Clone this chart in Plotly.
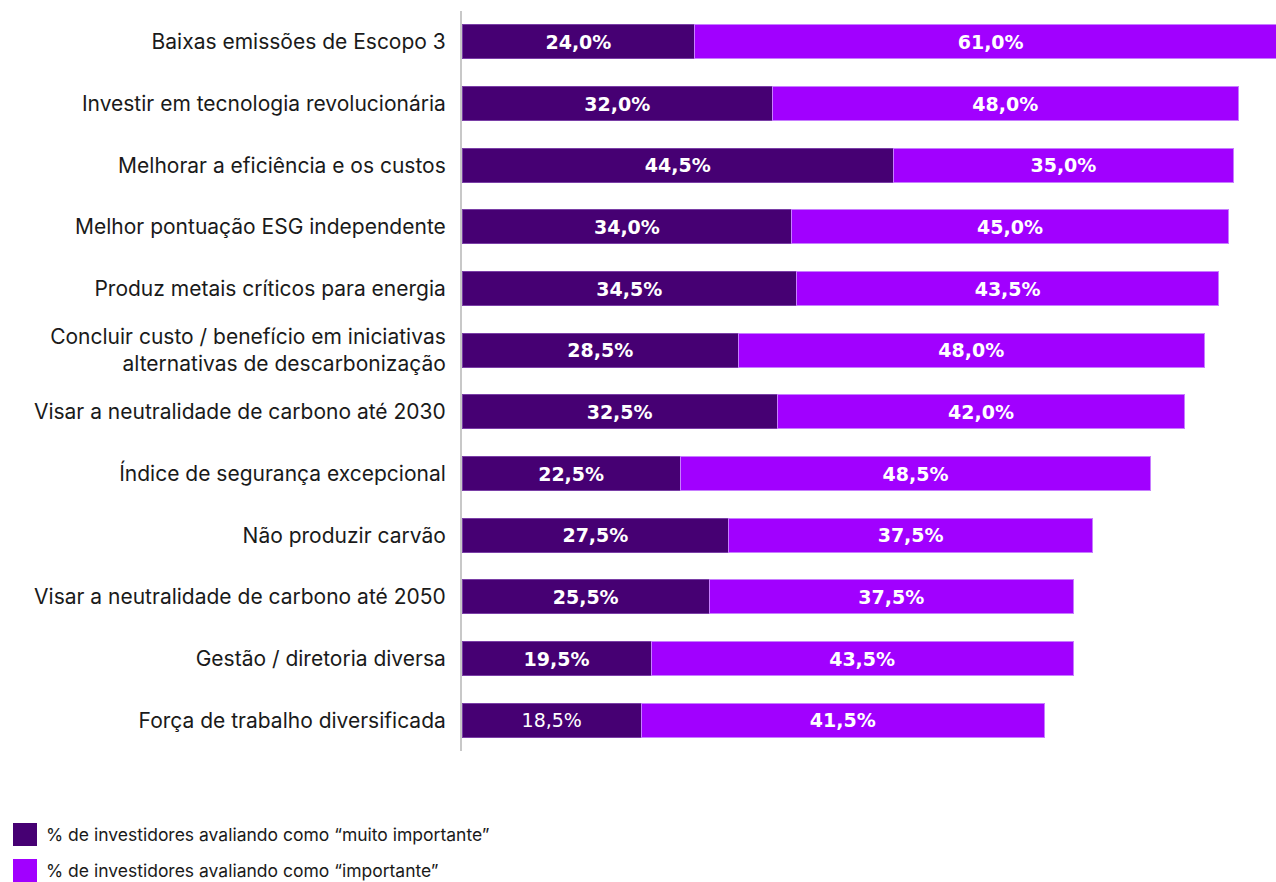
import plotly.graph_objects as go

categories = [
    "Baixas emissões de Escopo 3",
    "Investir em tecnologia revolucionária",
    "Melhorar a eficiência e os custos",
    "Melhor pontuação ESG independente",
    "Produz metais críticos para energia",
    "Concluir custo / benefício em iniciativas<br>alternativas de descarbonização",
    "Visar a neutralidade de carbono até 2030",
    "Índice de segurança excepcional",
    "Não produzir carvão",
    "Visar a neutralidade de carbono até 2050",
    "Gestão / diretoria diversa",
    "Força de trabalho diversificada",
]
muito_importante = [24.0, 32.0, 44.5, 34.0, 34.5, 28.5, 32.5, 22.5, 27.5, 25.5, 19.5, 18.5]
importante = [61.0, 48.0, 35.0, 45.0, 43.5, 48.0, 42.0, 48.5, 37.5, 37.5, 43.5, 41.5]
legend_labels = [
    "% de investidores avaliando como “muito importante”",
    "% de investidores avaliando como “importante”",
]

DARK = "#460073"
BRIGHT = "#A100FF"
TEXT_FONT = "Inter"
VALUE_FONT = "DejaVu Sans"


def fmt(v):
    return f"{v:.1f}".replace(".", ",") + "%"


# last dark label is drawn in regular weight, the rest in bold
dark_text = [f"<b>{fmt(v)}</b>" for v in muito_importante[:-1]] + [fmt(muito_importante[-1])]
bright_text = [f"<b>{fmt(v)}</b>" for v in importante]

fig = go.Figure()
fig.add_trace(go.Bar(
    y=categories, x=muito_importante, orientation="h", name=legend_labels[0],
    marker=dict(color=DARK, line=dict(color="#7a3fa6", width=1)),
    text=dark_text, textposition="inside", insidetextanchor="middle",
    textfont=dict(color="white", size=19, family=VALUE_FONT), textangle=0,
))
fig.add_trace(go.Bar(
    y=categories, x=importante, orientation="h", name=legend_labels[1],
    marker=dict(color=BRIGHT, line=dict(color="#c77dff", width=1)),
    text=bright_text, textposition="inside", insidetextanchor="middle",
    textfont=dict(color="white", size=19, family=VALUE_FONT), textangle=0,
))

W, H = 1276, 882
ML, MR, MT, MB = 462, 0, 11, 131
pw, ph = W - ML - MR, H - MT - MB


def px_x(x):
    return (x - ML) / pw


def px_y(y):
    return (H - MB - y) / ph


# legend swatches and labels below the chart
shapes = []
annotations = []
for i, (lab, col) in enumerate(zip(legend_labels, [DARK, BRIGHT])):
    top = 823 + i * 36
    shapes.append(dict(type="rect", xref="paper", yref="paper",
                       x0=px_x(13), x1=px_x(37), y0=px_y(top + 23), y1=px_y(top),
                       fillcolor=col, line=dict(width=0)))
    annotations.append(dict(xref="paper", yref="paper", x=px_x(44), y=px_y(top + 11.5),
                            text=lab, showarrow=False, xanchor="left", yanchor="middle",
                            font=dict(size=17.5, color="#1a1a1a", family=TEXT_FONT)))

fig.update_layout(
    width=W, height=H,
    barmode="stack", bargap=0.45,
    margin=dict(l=ML, r=MR, t=MT, b=MB),
    plot_bgcolor="white", paper_bgcolor="white",
    showlegend=False,
    font=dict(family=TEXT_FONT, size=21, color="#1a1a1a"),
    xaxis=dict(range=[0, pw / 9.7], visible=False, fixedrange=True),
    yaxis=dict(categoryorder="array", categoryarray=categories, autorange="reversed",
               showline=True, linecolor="#c8c8c8", linewidth=2,
               ticks="", ticklabelstandoff=10, showgrid=False,
               tickfont=dict(size=21, color="#1a1a1a", family=TEXT_FONT)),
    shapes=shapes, annotations=annotations,
)

fig.write_html("out.html")
